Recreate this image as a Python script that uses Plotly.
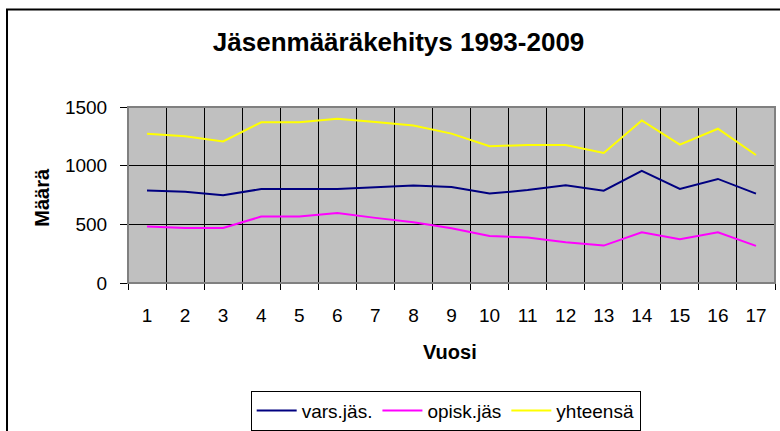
import plotly.graph_objects as go

years = [str(i) for i in range(1, 18)]
vars_jas = [788, 777, 748, 801, 801, 801, 815, 831, 818, 762, 792, 832, 787, 955, 801, 887, 762]
opisk_jas = [481, 469, 469, 566, 566, 597, 555, 517, 466, 401, 387, 347, 319, 432, 372, 432, 316]
yhteensa = [1273, 1250, 1207, 1369, 1369, 1400, 1372, 1343, 1273, 1165, 1176, 1176, 1108, 1386, 1179, 1315, 1091]

series = [
    ("vars.jäs.", vars_jas, "#000080"),
    ("opisk.jäs", opisk_jas, "#FF00FF"),
    ("yhteensä", yhteensa, "#FFFF00"),
]

FONT = "Liberation Sans, Arial, sans-serif"

fig = go.Figure()
for name, vals, col in series:
    fig.add_trace(go.Scatter(x=years, y=vals, name=name, mode="lines",
                             line=dict(color=col, width=2)))

fig.update_layout(
    width=780, height=431,
    margin=dict(l=128, r=5, t=107, b=148, autoexpand=False),
    paper_bgcolor="white", plot_bgcolor="#C0C0C0",
    font=dict(family=FONT, size=19, color="black"),
    title=dict(text="<b>Jäsenmääräkehitys 1993-2009</b>", x=0.511, xref="container",
               xanchor="center", y=1 - 42 / 431, yanchor="middle",
               font=dict(size=26, family=FONT, color="black")),
    showlegend=True,
    legend=dict(orientation="h", x=0.491, xanchor="center", y=(283.4 - 391) / 175.9,
                yanchor="top",
                bordercolor="black", borderwidth=1, bgcolor="white",
                font=dict(size=19, family=FONT), itemwidth=40,
                tracegroupgap=0),
)

fig.update_xaxes(type="category", tickson="boundaries", range=[-0.5, 16.5],
                 showgrid=True, gridcolor="black",
                 gridwidth=1, ticks="outside", ticklen=6, tickcolor="black",
                 showline=True, linecolor="black", linewidth=1, zeroline=False,
                 ticklabelstandoff=15, tickfont=dict(size=19))
fig.update_yaxes(range=[0, 1500], tickvals=[0, 500, 1000, 1500], showgrid=True,
                 gridcolor="black", gridwidth=1, ticks="outside", ticklen=7,
                 tickcolor="black", showline=True, linecolor="#808080", linewidth=1,
                 zeroline=False, ticklabelstandoff=9, tickfont=dict(size=19))

# plot area border (gray)
fig.add_shape(type="rect", xref="paper", yref="paper", x0=0, x1=1, y0=0, y1=1,
              line=dict(color="#808080", width=2), layer="above")
# outer chart border
fig.add_shape(type="rect", xref="paper", yref="paper", x0=-0.187, x1=1.05,
              y0=-0.95, y1=(283.4 - 10) / 175.9, line=dict(color="black", width=2))

fig.add_annotation(text="<b>Määrä</b>", xref="paper", yref="paper",
                   x=(42 - 128.3) / 646.7, y=0.488, textangle=-90, showarrow=False,
                   xanchor="center", yanchor="middle", font=dict(size=20, family=FONT))
fig.add_annotation(text="<b>Vuosi</b>", xref="paper", yref="paper",
                   x=0.497, y=(283.4 - 352) / 175.9, showarrow=False,
                   xanchor="center", yanchor="middle", font=dict(size=20, family=FONT))

fig.write_html("out.html", config={"displayModeBar": False},
               post_script="document.body.style.margin='0px';")
